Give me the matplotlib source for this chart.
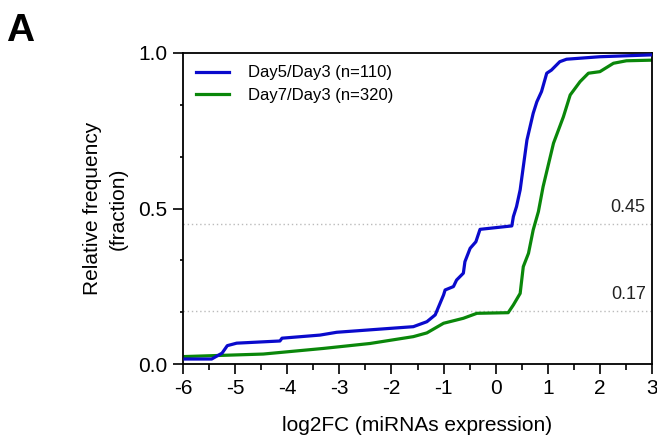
import matplotlib
matplotlib.use("Agg")
import matplotlib.pyplot as plt
from matplotlib.ticker import MultipleLocator

plt.rcParams['font.family'] = ['Liberation Sans', 'DejaVu Sans']

# Cumulative curves
day5_x = [-5.96, -5.45, -5.25, -5.15, -4.97, -4.14, -4.10, -3.37, -3.05, -1.58, -1.32,
          -1.16, -1.00, -0.97, -0.81, -0.75, -0.62, -0.59, -0.49, -0.38, -0.30, 0.31,
          0.34, 0.40, 0.47, 0.53, 0.60, 0.66, 0.72, 0.79, 0.88, 0.98, 1.07, 1.23, 1.36,
          2.0, 3.0]
day5_y = [0.016, 0.016, 0.035, 0.059, 0.067, 0.074, 0.083, 0.093, 0.102, 0.120, 0.136,
          0.158, 0.222, 0.238, 0.249, 0.270, 0.292, 0.329, 0.372, 0.393, 0.433, 0.444,
          0.474, 0.506, 0.560, 0.634, 0.720, 0.763, 0.806, 0.843, 0.876, 0.935, 0.945,
          0.972, 0.980, 0.988, 0.994]

day7_x = [-5.96, -4.46, -3.31, -2.41, -1.58, -1.32, -1.00, -0.62, -0.36, 0.24, 0.34,
          0.47, 0.53, 0.63, 0.72, 0.82, 0.91, 1.11, 1.30, 1.43, 1.62, 1.78, 2.00, 2.26,
          2.51, 3.0]
day7_y = [0.024, 0.032, 0.050, 0.066, 0.088, 0.100, 0.131, 0.147, 0.163, 0.165, 0.190,
          0.227, 0.313, 0.356, 0.431, 0.490, 0.570, 0.710, 0.795, 0.865, 0.908, 0.935,
          0.940, 0.967, 0.975, 0.977]

ref_levels = [0.45, 0.17]
ref_labels = ['0.45', '0.17']

fig = plt.figure(figsize=(6.57, 4.47), dpi=100)
ax = fig.add_axes([183 / 657, 1 - 364 / 447, 469 / 657, 311 / 447])

for lvl, lab in zip(ref_levels, ref_labels):
    ax.axhline(lvl, color='#bbbbbb', lw=1, ls=(0, (1, 2)), zorder=1)
    ax.text(2.88, lvl + 0.025, lab, ha='right', va='bottom', fontsize=13, color='#222222')

ax.plot(day5_x, day5_y, color='#0a0acc', lw=2.3, label='Day5/Day3 (n=110)', zorder=3)
ax.plot(day7_x, day7_y, color='#0a870a', lw=2.3, label='Day7/Day3 (n=320)', zorder=2)

ax.set_xlim(-6, 3)
ax.set_ylim(0, 1)
ax.xaxis.set_major_locator(MultipleLocator(1))
ax.xaxis.set_minor_locator(MultipleLocator(0.5))
ax.yaxis.set_major_locator(MultipleLocator(0.5))
ax.yaxis.set_minor_locator(MultipleLocator(1 / 6))
ax.yaxis.set_major_formatter(plt.FormatStrFormatter('%.1f'))
ax.xaxis.set_major_formatter(plt.FuncFormatter(lambda v, p: '%d' % v))
ax.tick_params(which='major', length=7, width=1.2, labelsize=15, direction='out', pad=4)
ax.tick_params(which='minor', length=4, width=1.2, direction='out')
ax.tick_params(axis='y', which='minor', length=2)
for s in ax.spines.values():
    s.set_linewidth(1.3)

ax.set_xlabel('log2FC (miRNAs expression)', fontsize=15, labelpad=13)
ax.set_ylabel('Relative frequency\n(fraction)', fontsize=15, labelpad=8, linespacing=1.45)

ax.legend(loc='upper left', frameon=False, fontsize=12, handlelength=2.0,
          handletextpad=1.15, borderaxespad=0.35, borderpad=0.4, labelspacing=0.45)

fig.text(6 / 657, 1 - 41 / 447, 'A', fontsize=28, fontweight='bold', va='baseline')

fig.savefig('out.png', dpi=100)
